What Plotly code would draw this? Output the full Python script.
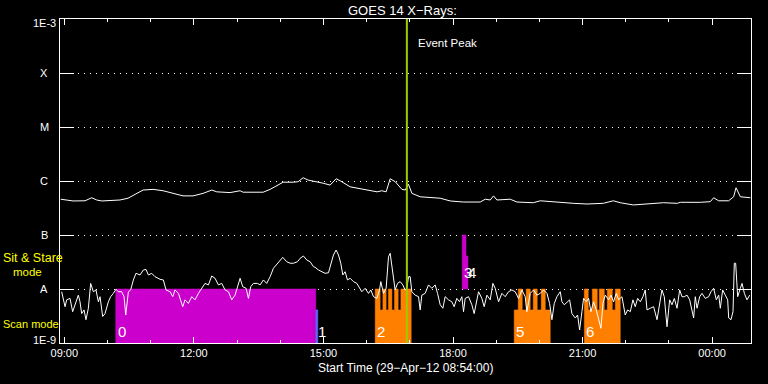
import numpy as np
import plotly.graph_objects as go
from datetime import datetime, timedelta

START = datetime(2012, 4, 29, 8, 54)
END_MIN = 960          # plot spans 08:54 -> 00:54 next day
EVENT_MIN = 481.9      # event peak (minutes after start)

# ---- GOES 1-8 A (long channel): minutes after start, flux (W/m^2)
hi_min = [1, 9.3, 18.1, 34.8, 44.1, 51, 58, 83.4, 94.5, 115.4,
          129.3, 143.2, 152.9, 170.9, 184.9, 198.8, 210.9, 217.8, 236.3, 250.2,
          254.4, 282.2, 291.9, 310, 323.9, 330.8, 337.8, 344.7, 365.6, 375.3,
          383.6, 389.2, 403.1, 421.2, 440.6, 447.2, 453.1, 458.7, 465.7, 475,
          479.6, 484.1, 488.9, 500.4, 514.3, 528.2, 542.1, 560.2, 583.8, 590.8,
          597.7, 602.3, 607, 625.5, 634.8, 657.5, 667.2, 681.1, 713.1, 732.1,
          754.8, 768.7, 778.4, 796.5, 810.4, 824.3, 838.2, 857.6, 861.8, 889.6,
          903.5, 908.1, 915, 928.9, 935.9, 939.2, 945.2, 959.1]
hi_flux = [4.6e-7, 4.45e-7, 4.27e-7, 4.3e-7, 4.9e-7, 4.45e-7, 4.27e-7, 4.45e-7, 4.8e-7, 6.8e-7,
           7.0e-7, 6.6e-7, 6.1e-7, 5.3e-7, 5.3e-7, 5.9e-7, 6.8e-7, 6.3e-7, 6.1e-7, 6.6e-7,
           6.2e-7, 6.2e-7, 7.0e-7, 9.5e-7, 9.5e-7, 9.7e-7, 1.15e-6, 1.04e-6, 9.1e-7, 8.4e-7,
           1.10e-6, 1.01e-6, 7.8e-7, 7.0e-7, 6.3e-7, 6.6e-7, 6.3e-7, 1.10e-6, 9.7e-7, 7.0e-7,
           6.8e-7, 8.7e-7, 5.9e-7, 5.1e-7, 4.9e-7, 4.8e-7, 4.27e-7, 4.08e-7, 4.08e-7, 4.6e-7,
           4.45e-7, 5.3e-7, 4.45e-7, 4.6e-7, 4.08e-7, 3.96e-7, 4.3e-7, 4.14e-7, 3.86e-7, 3.75e-7,
           3.86e-7, 4.3e-7, 3.96e-7, 3.6e-7, 3.7e-7, 3.75e-7, 3.96e-7, 3.86e-7, 4.03e-7, 4.03e-7,
           4.14e-7, 4.9e-7, 4.3e-7, 4.3e-7, 5.1e-7, 7.5e-7, 5.1e-7, 4.9e-7]

# ---- GOES 0.5-4 A (short channel)
lo_min = [2.3, 7, 9.3, 13.9, 17.6, 20.8, 25.5, 27.8, 30.1, 33.4,
          36.1, 39.4, 42.6, 46.3, 50, 53.3, 55.6, 59.3, 62.5, 67.2,
          70.4, 74.1, 77.8, 81.1, 85.7, 89, 91.3, 95, 98.2, 101.9,
          105.6, 111.2, 115.8, 119.5, 122.8, 127.4, 132, 139, 143.6, 147.3,
          152.9, 156.6, 159.8, 164.5, 170.5, 173.7, 178.4, 183, 187.6, 192.3,
          196.9, 201.5, 206.2, 210.8, 215.4, 220.1, 224.7, 229.3, 234, 238.6,
          243.2, 247.9, 250.2, 253.9, 258.5, 261.8, 265, 268.7, 274.3, 278,
          282.6, 287.2, 291.9, 296.5, 303.5, 309.5, 315, 319.7, 324.3, 329.9,
          333.6, 338.2, 342.9, 347.5, 352.1, 354.4, 359.1, 363.7, 368.3, 373,
          377.6, 379.9, 383.6, 386.9, 390.1, 392.9, 396.1, 399.4, 403.1, 407.7,
          412.4, 416.1, 419.3, 423.9, 428.6, 431.8, 435.5, 440.2, 443.9, 445.7,
          449.4, 453.1, 456.4, 458.7, 462.4, 465.6, 468.9, 472.6, 476.3, 479.5,
          481.9, 484.2, 486.5, 488.8, 493.4, 498.1, 500.4, 502.7, 507.3, 512,
          516.6, 521.2, 524.5, 528.2, 531.9, 535.1, 539.8, 544.4, 547.6, 551.3,
          555.1, 558.3, 560.6, 562.9, 567.6, 572.2, 575.4, 578.2, 581.5, 586.1,
          589.3, 593.1, 597.7, 601.4, 604.6, 609.3, 613.9, 618.5, 623.2, 627.8,
          632.4, 637.1, 641.7, 646.3, 648.6, 653.3, 657.9, 662.5, 667.2, 671.8,
          676.5, 680.2, 683.4, 686.7, 690.4, 695, 697.3, 700.6, 704.3, 708,
          711.2, 715.9, 719.1, 721.9, 725.1, 727.4, 731.1, 734.4, 737.6, 741.3,
          745, 748.3, 751.5, 754.3, 757.5, 762.2, 765.4, 769.1, 772.8, 776.1,
          780.7, 785.3, 788.6, 792.3, 796, 799.2, 802.5, 806.2, 809.9, 813.1,
          815.5, 820.1, 824.7, 829.4, 833.1, 836.3, 839.5, 843.3, 847, 850.2,
          853.5, 857.2, 860.9, 864.1, 867.4, 871.1, 874.8, 878, 880.3, 882.6,
          885, 888.7, 891.9, 896.5, 901.2, 904.4, 908.1, 911.8, 915.1, 917.4,
          920.6, 924.3, 927.6, 929, 932.2, 935, 936.8, 938.7, 941.5, 945.2,
          947.5, 950.8, 954.4, 958.2]
lo_flux = [8.9e-9, 4.7e-9, 6.3e-9, 6.7e-9, 3.8e-9, 5.1e-9, 7.7e-9, 5.8e-9, 3.5e-9, 4.1e-9,
           2.7e-9, 4.4e-9, 1.27e-8, 8.9e-9, 9.6e-9, 5.8e-9, 7.2e-9, 3.1e-9, 3.5e-9, 5.8e-9,
           7.2e-9, 8.3e-9, 9.9e-9, 8.9e-9, 8.9e-9, 7.2e-9, 3.3e-9, 8.9e-9, 9.6e-9, 1.47e-8,
           1.95e-8, 1.82e-8, 2.25e-8, 2.3e-8, 1.82e-8, 1.95e-8, 1.69e-8, 1.51e-8, 1.47e-8, 9.6e-9,
           8.9e-9, 7.2e-9, 9.6e-9, 8.3e-9, 4.7e-9, 6.3e-9, 5.4e-9, 7.2e-9, 6.3e-9, 8.3e-9,
           1.03e-8, 1.27e-8, 1.19e-8, 1.74e-8, 1.58e-8, 1.19e-8, 1.27e-8, 9.6e-9, 8.9e-9, 6.3e-9,
           7.7e-9, 1.27e-8, 1.58e-8, 1.1e-8, 1.03e-8, 6.7e-9, 1.1e-8, 1.27e-8, 1.27e-8, 1.19e-8,
           1.47e-8, 1.27e-8, 1.69e-8, 2.42e-8, 3.2e-8, 3.86e-8, 3.2e-8, 3.0e-8, 3.0e-8, 3.2e-8,
           3.7e-8, 4.08e-8, 3.44e-8, 3.2e-8, 2.59e-8, 2.52e-8, 2.25e-8, 2.09e-8, 1.95e-8, 2.0e-8,
           3.2e-8, 4.26e-8, 5.27e-8, 4.26e-8, 3.0e-8, 1.82e-8, 2.09e-8, 1.47e-8, 1.58e-8, 1.37e-8,
           1.27e-8, 1.03e-8, 8.9e-9, 1.03e-8, 8.3e-9, 9.6e-9, 7.2e-9, 6.7e-9, 9.6e-9, 1.37e-8,
           8.3e-9, 1.03e-8, 3.96e-8, 4.58e-8, 1.95e-8, 9.6e-9, 1.27e-8, 1.37e-8, 1.19e-8, 9.6e-9,
           1.03e-8, 1.69e-8, 1.69e-8, 8.9e-9, 7.7e-9, 7.2e-9, 4.1e-9, 7.7e-9, 8.3e-9, 1.19e-8,
           1.03e-8, 1.19e-8, 8.3e-9, 5.1e-9, 4.4e-9, 7.2e-9, 6.3e-9, 5.8e-9, 4.7e-9, 6.7e-9,
           5.8e-9, 7.2e-9, 3.8e-9, 6.7e-9, 7.2e-9, 5.1e-9, 3.5e-9, 5.4e-9, 8.9e-9, 6.7e-9,
           4.7e-9, 7.7e-9, 6.3e-9, 1.27e-8, 1.03e-8, 5.8e-9, 8.3e-9, 7.2e-9, 8.9e-9, 9.6e-9,
           8.9e-9, 6.7e-9, 9.6e-9, 7.2e-9, 3.8e-9, 8.3e-9, 9.6e-9, 7.7e-9, 8.3e-9, 9.6e-9,
           8.3e-9, 5.4e-9, 2.7e-9, 5.4e-9, 7.2e-9, 8.9e-9, 5.8e-9, 5.1e-9, 5.8e-9, 6.3e-9,
           3.5e-9, 2.9e-9, 3.3e-9, 1.74e-9, 3.8e-9, 6.7e-9, 5.8e-9, 6.7e-9, 3.8e-9, 5.8e-9,
           4.1e-9, 2.9e-9, 1.87e-9, 5.4e-9, 7.7e-9, 6.3e-9, 7.7e-9, 5.8e-9, 8.3e-9, 6.3e-9,
           7.2e-9, 3.3e-9, 4.1e-9, 3.8e-9, 6.3e-9, 4.7e-9, 6.7e-9, 5.8e-9, 7.2e-9, 9.6e-9,
           4.1e-9, 4.4e-9, 4.7e-9, 2.7e-9, 5.4e-9, 9.6e-9, 7.2e-9, 2.0e-9, 6.3e-9, 5.1e-9,
           6.7e-9, 4.4e-9, 9.6e-9, 7.2e-9, 7.2e-9, 7.7e-9, 6.3e-9, 4.1e-9, 2.9e-9, 7.2e-9,
           4.4e-9, 7.2e-9, 8.3e-9, 6.7e-9, 7.2e-9, 8.9e-9, 1.03e-8, 6.3e-9, 7.7e-9, 4.4e-9,
           9.6e-9, 7.7e-9, 6.3e-9, 2.9e-9, 2.7e-9, 3.8e-9, 3.0e-8, 3.0e-8, 7.2e-9, 1.03e-8,
           1.27e-8, 8.3e-9, 6.3e-9, 7.7e-9]

# ---- observing-mode segments (minutes after start)
seg_start = [77.4, 355.4,
             437.9, 444.8, 448.6, 453.1, 456.3, 461.1, 464.7, 469.8, 473.6,
             558.8, 564.0,
             631.0, 636.6, 642.2, 647.7, 653.3, 657.5, 663.0, 668.6, 674.2,
             728.4, 733.9, 739.5, 746.4, 749.2, 756.2, 760.3, 767.3, 771.5]
seg_end = [355.4, 358.2,
           444.8, 448.6, 453.1, 456.3, 461.1, 464.7, 469.8, 473.6, 487.9,
           564.0, 566.8,
           636.6, 642.2, 647.7, 653.3, 657.5, 663.0, 668.6, 674.2, 681.1,
           733.9, 739.5, 746.4, 749.2, 756.2, 760.3, 767.3, 771.5, 778.4]
seg_top = [1e-8, 4.1e-9,
           1e-8, 4.1e-9, 1e-8, 4.1e-9, 1e-8, 4.1e-9, 1e-8, 4.1e-9, 1e-8,
           1e-7, 4.1e-8,
           4.1e-9, 1e-8, 4.1e-9, 1e-8, 4.1e-9, 1e-8, 4.1e-9, 1e-8, 4.1e-9,
           1e-8, 4.1e-9, 1e-8, 4.1e-9, 1e-8, 4.1e-9, 1e-8, 4.1e-9, 1e-8]
seg_base = [1e-9, 1e-9] + [1e-9] * 9 + [1e-8, 1e-8] + [1e-9] * 9 + [1e-9] * 9
seg_kind = ['sit', 'sit2'] + ['scan'] * 9 + ['sit', 'sit'] + ['scan'] * 9 + ['scan'] * 9

label_text = ['0', '1', '2', '3', '4', '5', '6']
label_min = [77.4, 355.4, 437.9, 558.8, 564.0, 631.0, 728.4]
label_flux = [1.6e-9, 1.6e-9, 1.6e-9, 2.0e-8, 2.0e-8, 1.6e-9, 1.6e-9]

level_names = ['1E-3', 'X', 'M', 'C', 'B', 'A', '1E-9']
level_vals = [1e-3, 1e-4, 1e-5, 1e-6, 1e-7, 1e-8, 1e-9]

assert len(hi_min) == len(hi_flux)
assert len(lo_min) == len(lo_flux)
assert len(seg_start) == len(seg_end) == len(seg_top) == len(seg_base) == len(seg_kind)

KIND_COLOR = {'sit': '#cc00cc', 'sit2': '#6464ff', 'scan': '#ff8000'}


def t(m):
    return START + timedelta(minutes=m)


fig = go.Figure()

# group contiguous segments of the same kind into one stepped block
groups = []
for i in range(len(seg_start)):
    if (groups and seg_start[i] == seg_end[i - 1] and seg_kind[i] == seg_kind[i - 1]
            and seg_base[i] == seg_base[i - 1]):
        groups[-1].append(i)
    else:
        groups.append([i])

for g in groups:
    base = seg_base[g[0]]
    xs, ys = [t(seg_start[g[0]])], [base]
    for i in g:
        xs += [t(seg_start[i]), t(seg_end[i])]
        ys += [seg_top[i], seg_top[i]]
    xs += [t(seg_end[g[-1]]), t(seg_start[g[0]])]
    ys += [base, base]
    col = KIND_COLOR[seg_kind[g[0]]]
    fig.add_trace(go.Scatter(x=xs, y=ys, mode='lines', fill='toself', fillcolor=col,
                             line=dict(color=col, width=0.5), hoverinfo='skip'))

fig.add_trace(go.Scatter(x=[t(m) for m in hi_min], y=hi_flux, mode='lines',
                         line=dict(color='white', width=1), hoverinfo='skip'))
fig.add_trace(go.Scatter(x=[t(m) for m in lo_min], y=lo_flux, mode='lines',
                         line=dict(color='white', width=1), hoverinfo='skip'))

fig.add_shape(type='line', xref='x', yref='paper', x0=t(EVENT_MIN), x1=t(EVENT_MIN),
              y0=0, y1=1, line=dict(color='#9ccc00', width=2), layer='above')

ann = []
# segment numbers
for txt, m, v in zip(label_text, label_min, label_flux):
    ann.append(dict(x=t(m), y=np.log10(v), xref='x', yref='y', text=txt, showarrow=False,
                    xanchor='left', yanchor='middle', font=dict(size=15, color='white')))

L, W, T, H = 60, 691, 19, 324


def py(ypx):
    return (T + H - ypx) / H


def px(xpx):
    return (xpx - L) / W


level_px = [23, 73, 127, 181, 235, 289, 340]
for name, ypx in zip(level_names, level_px):
    ann.append(dict(x=px(44), y=py(ypx), xref='paper', yref='paper', text=name, showarrow=False,
                    xanchor='center', yanchor='middle', font=dict(size=11, color='white')))

ann += [
    dict(x=px(402), y=py(10), xref='paper', yref='paper', text='GOES 14 X\u2212Rays:',
         showarrow=False, xanchor='center', yanchor='middle', font=dict(size=13, color='white')),
    dict(x=t(EVENT_MIN), y=py(43), xref='x', yref='paper', text='Event Peak', xshift=9,
         showarrow=False, xanchor='left', yanchor='middle', font=dict(size=11.5, color='white')),
    dict(x=px(405), y=py(368), xref='paper', yref='paper',
         text='Start Time (29\u2212Apr\u221212 08:54:00)', showarrow=False,
         xanchor='center', yanchor='middle', font=dict(size=12, color='white')),
    dict(x=px(1), y=py(258), xref='paper', yref='paper', text='Sit &amp; Stare', showarrow=False,
         xanchor='left', yanchor='middle', font=dict(size=12.5, color='#ffff00')),
    dict(x=px(11), y=py(272), xref='paper', yref='paper', text='mode', showarrow=False,
         xanchor='left', yanchor='middle', font=dict(size=11.5, color='#ffff00')),
    dict(x=px(1), y=py(324), xref='paper', yref='paper', text='Scan mode', showarrow=False,
         xanchor='left', yanchor='middle', font=dict(size=11, color='#ffff00')),
]

fig.update_layout(
    width=768, height=384,
    margin=dict(l=L, r=768 - L - W, t=T, b=384 - T - H, pad=0),
    paper_bgcolor='black', plot_bgcolor='black',
    showlegend=False, hovermode=False,
    font=dict(family='Liberation Sans', color='white', size=11),
    annotations=ann,
    xaxis=dict(type='date', range=[t(0), t(END_MIN)], showgrid=False, zeroline=False,
               showline=True, linecolor='white', linewidth=1, mirror='ticks',
               ticks='inside', ticklen=6, tickwidth=1, tickcolor='white',
               tick0='2012-04-29 09:00', dtick=3 * 3600000, tickformat='%H:%M',
               tickfont=dict(size=11, color='white'),
               minor=dict(dtick=3600000, ticks='inside', ticklen=3, tickwidth=1,
                          tickcolor='white', showgrid=False)),
    yaxis=dict(type='log', range=[-9, -3], zeroline=False,
               tickvals=level_vals[1:-1], showticklabels=False,
               showline=True, linecolor='white', linewidth=1, mirror='ticks',
               ticks='inside', ticklen=14, tickwidth=1, tickcolor='white',
               showgrid=True, gridcolor='white', gridwidth=1, griddash='1px,5px'),
)

fig.write_html('out.html', config={'displayModeBar': False, 'staticPlot': True},
               post_script="document.body.style.margin='0';document.body.style.background='black';")
